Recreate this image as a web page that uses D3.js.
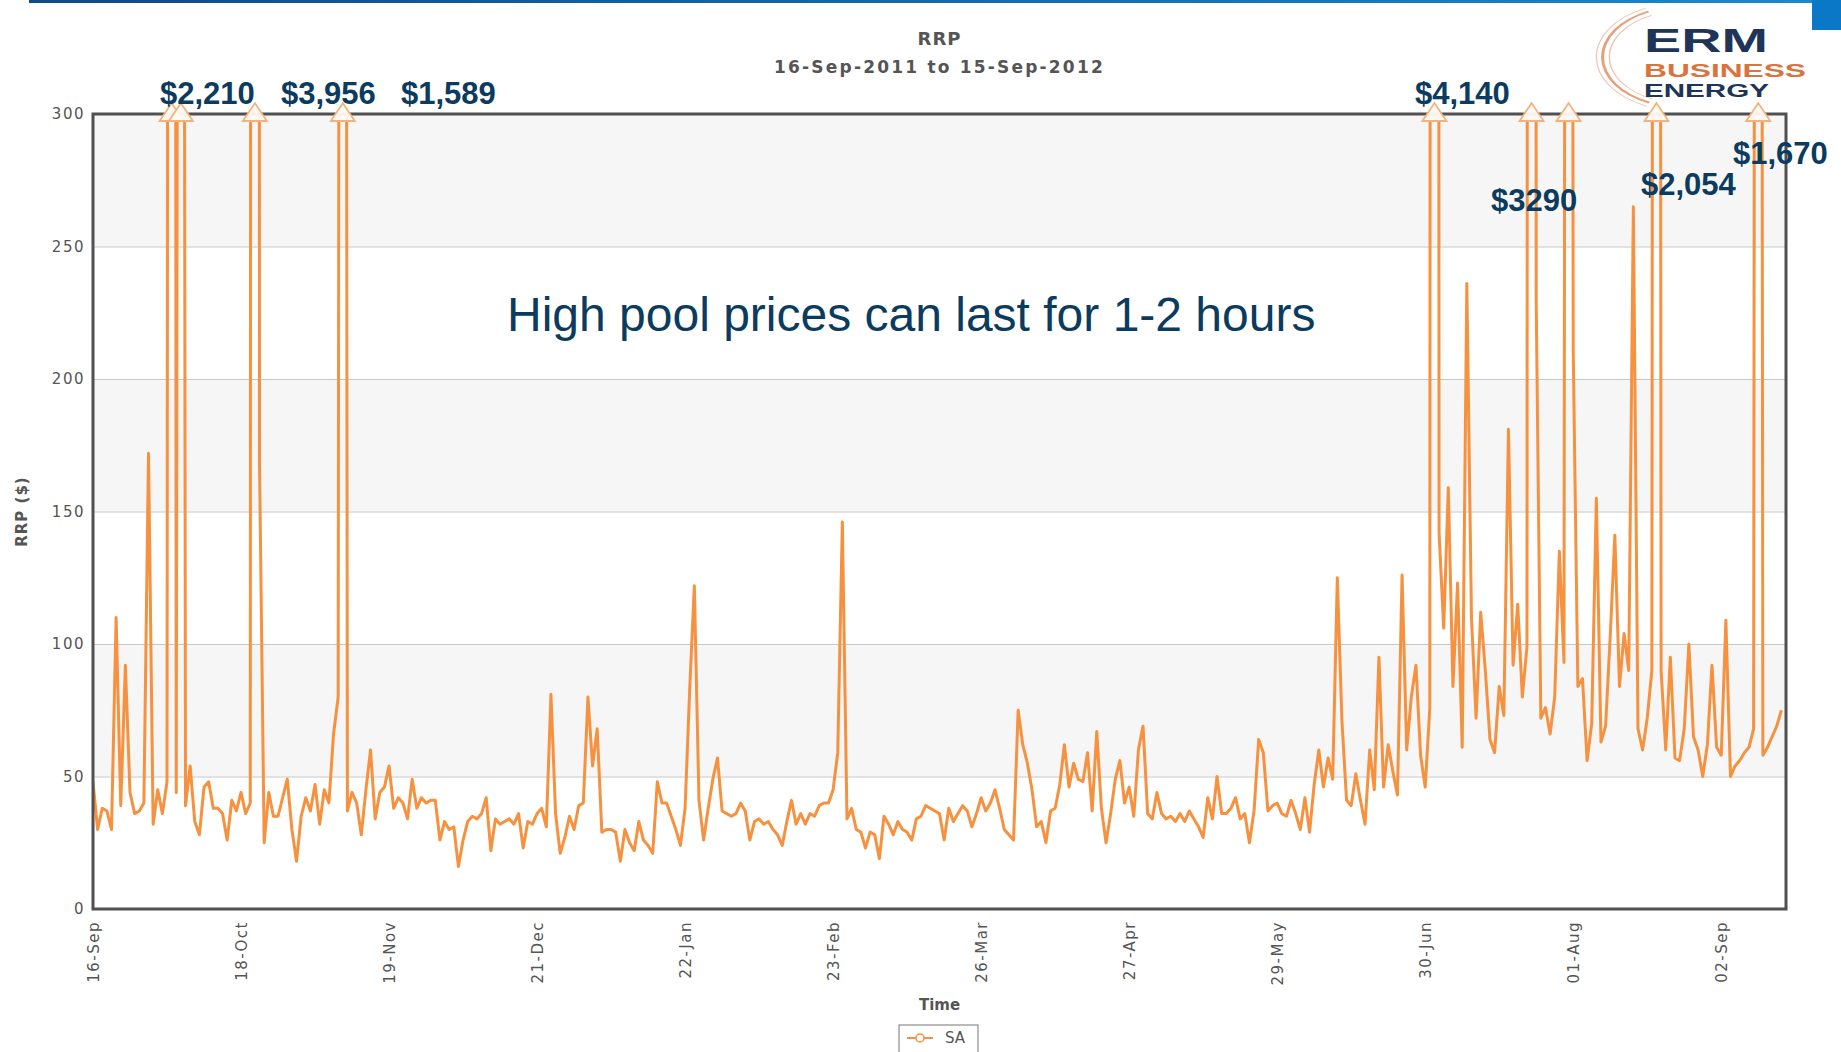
<!doctype html>
<html>
<head>
<meta charset="utf-8">
<title>RRP SA, 16-Sep-2011 to 15-Sep-2012</title>
<script src="https://cdn.jsdelivr.net/npm/d3@7"></script>
<style>
  body { margin: 0; background: #fff; }
  svg text { font-family: "DejaVu Sans", Verdana, sans-serif; }
</style>
</head>
<body>
<div id="chart"></div>
<script>
// SA daily RRP ($/MWh), one value per day from 16-Sep-2011
const startDay = "2011-09-16";
const endDay = "2012-09-16";
const rrp = [
  48, 30, 38, 37, 30, 110, 39, 92, 44, 36,
  37, 40, 172, 32, 45, 36, 48, 2210, 44, 1300,
  39, 54, 33, 28, 46, 48, 38, 38, 36, 26,
  41, 37, 44, 36, 40, 3956, 168, 25, 44, 35,
  35, 42, 49, 30, 18, 35, 42, 37, 47, 32,
  45, 40, 66, 80, 1589, 37, 44, 40, 28, 45,
  60, 34, 44, 46, 54, 38, 42, 40, 34, 49,
  38, 42, 40, 41, 41, 26, 33, 30, 31, 16,
  26, 33, 35, 34, 36, 42, 22, 34, 32, 33,
  34, 32, 36, 23, 33, 32, 36, 38, 31, 81,
  36, 21, 27, 35, 30, 39, 40, 80, 54, 68,
  29, 30, 30, 29, 18, 30, 25, 22, 33, 26,
  24, 21, 48, 40, 40, 35, 30, 24, 38, 83,
  122, 41, 26, 38, 49, 57, 37, 36, 35, 36,
  40, 37, 26, 33, 34, 32, 33, 30, 28, 24,
  33, 41, 32, 36, 32, 36, 35, 39, 40, 40,
  45, 59, 146, 34, 38, 30, 29, 23, 29, 28,
  19, 35, 32, 28, 33, 30, 29, 26, 34, 35,
  39, 38, 37, 36, 26, 38, 33, 36, 39, 37,
  31, 36, 42, 37, 40, 45, 38, 30, 28, 26,
  75, 62, 55, 45, 31, 33, 25, 37, 38, 47,
  62, 46, 55, 49, 48, 59, 37, 67, 38, 25,
  36, 49, 56, 40, 46, 35, 60, 69, 36, 34,
  44, 36, 34, 35, 33, 36, 33, 37, 34, 31,
  27, 42, 34, 50, 36, 36, 38, 42, 34, 36,
  25, 37, 64, 59, 37, 39, 40, 36, 35, 41,
  36, 30, 42, 29, 47, 60, 46, 57, 49, 125,
  71, 41, 39, 51, 41, 32, 60, 45, 95, 46,
  62, 52, 43, 126, 60, 80, 92, 58, 46, 76,
  4140, 142, 106, 159, 84, 123, 61, 236, 110, 72,
  112, 90, 64, 59, 84, 73, 181, 92, 115, 80,
  99, 3290, 229, 72, 76, 66, 80, 135, 93, 1500,
  211, 84, 87, 56, 70, 155, 63, 69, 103, 141,
  84, 104, 90, 265, 68, 60, 72, 90, 2054, 90,
  60, 95, 57, 56, 68, 100, 65, 60, 50, 62,
  92, 61, 58, 109, 50, 54, 56, 59, 61, 68,
  1670, 58, 61, 65, 69, 75
];
const tickDays = ["2011-09-16", "2011-10-18", "2011-11-19", "2011-12-21", "2012-01-22", "2012-02-23",
                  "2012-03-26", "2012-04-27", "2012-05-29", "2012-06-30", "2012-08-01", "2012-09-02"];
const yTicks = [0, 50, 100, 150, 200, 250, 300];
const peakLabels = ["$2,210", "$3,956", "$1,589", "$4,140", "$3290", "$2,054", "$1,670"];
// where each peak label sits on the page (x start, baseline)
const peakLabelPos = [[160, 104], [281, 104], [401, 104], [1415, 104], [1491, 211], [1641, 195], [1733, 164]];

const W = 1841, H = 1052;
const plot = {left: 93, right: 1786, top: 114, bottom: 909};
const orange = "#f5913f";
const navy = "#0b3b5e";

const parse = d3.timeParse("%Y-%m-%d");
const t0 = parse(startDay);
const data = rrp.map((v, i) => ({date: d3.timeDay.offset(t0, i), value: v}));

const svg = d3.select("#chart").append("svg")
  .attr("width", W).attr("height", H);

const defs = svg.append("defs");
const grad = defs.append("linearGradient").attr("id", "topbar");
grad.append("stop").attr("offset", "0%").attr("stop-color", "#0e4a86");
grad.append("stop").attr("offset", "100%").attr("stop-color", "#1b88d0");
defs.append("clipPath").attr("id", "clip")
  .append("rect")
  .attr("x", plot.left).attr("y", plot.top)
  .attr("width", plot.right - plot.left).attr("height", plot.bottom - plot.top);

// top blue rule and corner block
svg.append("rect").attr("x", 29).attr("y", 0).attr("width", W - 29).attr("height", 3).attr("fill", "url(#topbar)");
svg.append("rect").attr("x", 1812).attr("y", 0).attr("width", 29).attr("height", 30).attr("fill", "#0a78c6");

const x = d3.scaleTime()
  .domain([t0, parse(endDay)])
  .range([plot.left, plot.right]);
const y = d3.scaleLinear()
  .domain([0, 300])
  .range([plot.bottom, plot.top]);

// alternating bands
svg.append("g").selectAll("rect")
  .data(d3.pairs(yTicks).filter((p, i) => i % 2 == 1))
  .join("rect")
    .attr("x", plot.left)
    .attr("width", plot.right - plot.left)
    .attr("y", d => y(d[1]))
    .attr("height", d => y(d[0]) - y(d[1]))
    .attr("fill", "#f6f6f6");

// grid
svg.append("g")
  .attr("transform", `translate(${plot.left},0)`)
  .call(d3.axisLeft(y).tickValues(yTicks.slice(1, -1)).tickSize(-(plot.right - plot.left)).tickFormat(""))
  .call(g => g.select(".domain").remove())
  .selectAll("line").attr("stroke", "#c8c8c8");

// y tick labels
svg.append("g")
  .attr("transform", `translate(${plot.left},0)`)
  .call(d3.axisLeft(y).tickValues(yTicks).tickSize(0).tickPadding(8))
  .call(g => g.select(".domain").remove())
  .selectAll("text")
    .attr("fill", "#555")
    .style("font-size", "15px")
    .style("letter-spacing", "1.5px")
    .style("font-family", "'DejaVu Sans', Verdana, sans-serif");

// x tick labels
svg.append("g")
  .attr("transform", `translate(0,${plot.bottom})`)
  .call(d3.axisBottom(x).tickValues(tickDays.map(parse)).tickFormat(d3.timeFormat("%d-%b")).tickSize(0))
  .call(g => g.select(".domain").remove())
  .selectAll("text")
    .attr("x", -12).attr("y", 0).attr("dy", "0.35em")
    .attr("transform", "rotate(-90)")
    .style("text-anchor", "end")
    .attr("fill", "#555")
    .style("font-size", "15px")
    .style("letter-spacing", "1.5px")
    .style("font-family", "'DejaVu Sans', Verdana, sans-serif");

// the price line
const line = d3.line().x(d => x(d.date)).y(d => y(d.value));
svg.append("path")
  .datum(data)
  .attr("clip-path", "url(#clip)")
  .attr("fill", "none")
  .attr("stroke", orange)
  .attr("stroke-width", 3)
  .attr("stroke-linejoin", "round")
  .attr("d", line);

// frame
svg.append("rect")
  .attr("x", plot.left).attr("y", plot.top)
  .attr("width", plot.right - plot.left).attr("height", plot.bottom - plot.top)
  .attr("fill", "none").attr("stroke", "#505050").attr("stroke-width", 3);

// off-scale markers
svg.append("g").selectAll("path")
  .data(data.filter(d => d.value > 300))
  .join("path")
    .attr("d", d => {
      const cx = x(d.date), base = y(300) + 7;
      return `M${cx - 12},${base} L${cx},${base - 18} L${cx + 12},${base} Z`;
    })
    .attr("fill", "#fffaf4")
    .attr("fill-opacity", 0.95)
    .attr("stroke", "#f2b27e")
    .attr("stroke-width", 1.8);

// titles
svg.append("text")
  .attr("x", (plot.left + plot.right) / 2).attr("y", 45)
  .attr("text-anchor", "middle").attr("fill", "#555")
  .style("font-size", "18px").style("font-weight", "bold").style("letter-spacing", "1px")
  .text("RRP");
svg.append("text")
  .attr("x", (plot.left + plot.right) / 2).attr("y", 73)
  .attr("text-anchor", "middle").attr("fill", "#555")
  .style("font-size", "17px").style("font-weight", "bold").style("letter-spacing", "2.2px")
  .text("16-Sep-2011 to 15-Sep-2012");

svg.append("text")
  .attr("transform", `translate(27,${(plot.top + plot.bottom) / 2}) rotate(-90)`)
  .attr("text-anchor", "middle").attr("fill", "#555")
  .style("font-size", "15px").style("font-weight", "bold").style("letter-spacing", "1px")
  .text("RRP ($)");

svg.append("text")
  .attr("x", (plot.left + plot.right) / 2).attr("y", 1010)
  .attr("text-anchor", "middle").attr("fill", "#555")
  .style("font-size", "15px").style("font-weight", "bold")
  .text("Time");

// legend
const leg = svg.append("g").attr("transform", "translate(899,1025)");
leg.append("rect").attr("width", 79).attr("height", 40).attr("fill", "#fff").attr("stroke", "#777");
leg.append("line").attr("x1", 8).attr("x2", 34).attr("y1", 13).attr("y2", 13).attr("stroke", orange).attr("stroke-width", 2);
leg.append("circle").attr("cx", 21).attr("cy", 13).attr("r", 4).attr("fill", "#fff").attr("stroke", orange).attr("stroke-width", 1.5);
leg.append("text").attr("x", 46).attr("y", 18).attr("fill", "#555").style("font-size", "15px").text("SA");

// annotation
svg.append("text")
  .attr("x", 507).attr("y", 331)
  .attr("fill", navy)
  .style("font-family", "'Liberation Sans', Arial, sans-serif")
  .style("font-size", "48px")
  .text("High pool prices can last for 1-2 hours");

// peak value labels
svg.append("g").selectAll("text")
  .data(peakLabels)
  .join("text")
    .attr("x", (d, i) => peakLabelPos[i][0])
    .attr("y", (d, i) => peakLabelPos[i][1])
    .attr("fill", navy)
    .style("font-family", "'Liberation Sans', Arial, sans-serif")
    .style("font-weight", "bold")
    .style("font-size", "31px")
    .text(d => d);

// ERM Business Energy logo
const logo = svg.append("g");
const arc = d3.arc();
[[74, 1.4, 0.5], [80, 3, 0.8], [87, 1.4, 0.45]].forEach(([r, w, op]) => {
  logo.append("path")
    .attr("transform", "translate(1684,57) scale(1,0.62)")
    .attr("d", arc({innerRadius: r, outerRadius: r + w, startAngle: -2.7, endAngle: -0.45}))
    .attr("fill", "#dd8a5c").attr("opacity", op);
});
const logoFont = "'Liberation Sans', Arial, sans-serif";
logo.append("text").attr("x", 1644).attr("y", 52).attr("fill", "#1f3557")
  .style("font-family", logoFont).style("font-weight", "bold").style("font-size", "33px")
  .attr("textLength", 124).attr("lengthAdjust", "spacingAndGlyphs").text("ERM");
logo.append("text").attr("x", 1644).attr("y", 76.5).attr("fill", "#d8743c")
  .style("font-family", logoFont).style("font-weight", "bold").style("font-size", "19px")
  .attr("textLength", 162).attr("lengthAdjust", "spacingAndGlyphs").text("BUSINESS");
logo.append("text").attr("x", 1644).attr("y", 97).attr("fill", "#1f3557")
  .style("font-family", logoFont).style("font-weight", "bold").style("font-size", "18px")
  .attr("textLength", 125).attr("lengthAdjust", "spacingAndGlyphs").text("ENERGY");
</script>
</body>
</html>
